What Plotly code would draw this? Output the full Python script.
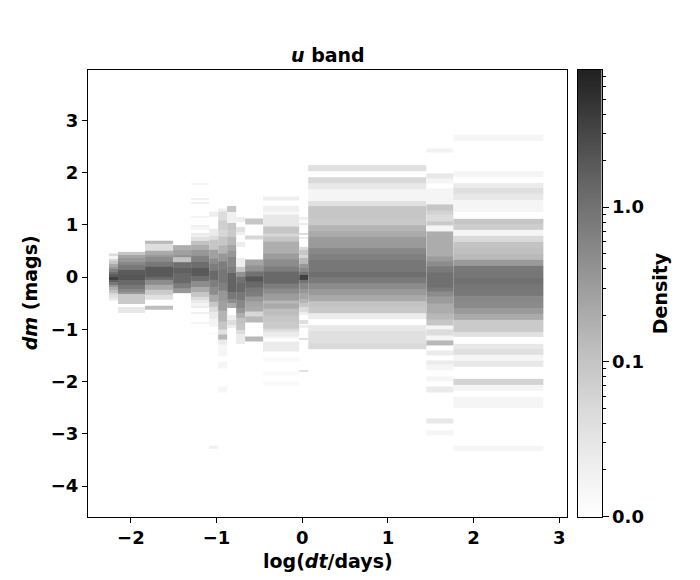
import numpy as np
import plotly.graph_objects as go

# ---------------- data ----------------
# log(dt/days) bin edges of the columns
dt_edges = [-2.255, -2.150, -1.834, -1.507, -1.297, -1.086, -0.981, -0.876,
            -0.771, -0.666, -0.456, -0.035, 0.070, 1.449, 1.764, 2.815]

# per-column dm bin edges (top -> bottom) and densities (None = empty bin)
a_dm = [0.45, 0.40, 0.35, 0.30, 0.25, 0.20, 0.15, 0.10, 0.05, 0.00, -0.05, -0.10,
        -0.15, -0.20, -0.25, -0.30, -0.35, -0.40, -0.45]
a_den = [0.045, 0.016, 0.055, 0.093, 0.21, 0.36, 0.64, 1.12, 1.83, 3.4, 1.63, 0.84,
         0.36, 0.186, 0.105, 0.055, 0.037, 0.025]

b_dm = [0.48, 0.43, 0.36, 0.29, 0.23, 0.13, 0.04, -0.06, -0.15, -0.22, -0.28, -0.33,
        -0.52, -0.57, -0.68]
b_den = [0.093, 0.24, 0.36, 0.55, 0.84, 1.83, 2.04, 1.28, 0.84, 0.55, 0.36, 0.083,
         None, 0.028]

c_dm = [0.695, 0.63, 0.50, 0.42, 0.38, 0.29, 0.20, 0.01, -0.06, -0.15, -0.25, -0.33,
        -0.44, -0.555, -0.62]
c_den = [0.143, 0.041, 0.21, 0.31, 0.48, 0.84, 1.93, 1.28, 0.48, 0.21, 0.083, 0.037,
         None, 0.121]

d_dm = [0.61, 0.52, 0.42, 0.38, 0.29, 0.17, 0.07, -0.12, -0.22, -0.31]
d_den = [0.186, 0.277, 0.41, 0.105, 1.12, 1.63, 1.28, 0.74, 0.36]

e_dm = [1.80, 1.76, 1.52, 1.48, 1.43, 1.39, 1.17, 1.13, 1.00, 0.96, 0.90, 0.85, 0.81,
        0.77, 0.70, 0.61, 0.52, 0.41, 0.28, 0.18, 0.02, -0.08, -0.18, -0.28, -0.38,
        -0.44, -0.50, -0.55, -0.60, -0.66, -0.70, -0.85, -0.89]
e_den = [0.016, None, 0.020, None, 0.020, None, 0.016, None, 0.020, 0.016, None,
         0.025, 0.020, 0.037, 0.105, 0.186, 0.36, 0.637, 1.12, 1.93, 1.12, 0.48,
         0.21, 0.093, 0.045, 0.025, 0.016, 0.025, None, 0.020, None, 0.016]

f_dm = [1.25, 1.15, 0.93, 0.80, 0.71, 0.52, 0.36, 0.26, 0.13, -0.06, -0.19, -0.34,
        -0.47, -0.57, -0.66, -0.79, -0.95, -1.06, -1.09, -3.23, -3.28]
f_den = [0.022, None, 0.025, 0.041, 0.093, 0.277, 0.48, 0.74, 1.28, 0.74, 0.48, 0.21,
         0.093, 0.045, 0.025, 0.017, None, 0.016, None, 0.020]

g_dm = [1.31, 1.25, 1.09, 0.90, 0.77, 0.60, 0.45, 0.30, 0.15, -0.10, -0.25, -0.45,
        -0.65, -0.85, -1.00, -1.10, -1.20, -1.30, -1.53, -1.62, -1.75, -2.10, -2.20]
g_den = [0.022, 0.045, 0.070, 0.055, 0.093, 0.16, 0.36, 0.74, 0.90, 0.68, 0.36, 0.277,
         0.16, 0.093, 0.037, 0.143, 0.025, 0.015, None, 0.015, None, 0.015]

h_dm = [1.36, 1.25, 1.03, 0.90, 0.77, 0.62, 0.50, 0.39, 0.20, 0.07, -0.28, -0.41,
        -0.50, -0.60, -0.73, -0.82, -0.92, -0.98]
h_den = [0.093, 0.020, 0.093, 0.083, 0.143, 0.24, 0.36, 0.55, 0.74, 1.46, 0.84, 0.48,
         0.21, None, 0.022, 0.041, 0.022]

i_dm = [1.15, 1.06, 0.96, 0.87, 0.80, 0.68, 0.58, 0.36, 0.20, 0.10, 0.01, -0.12,
        -0.28, -0.44, -0.60, -0.69, -0.79, -0.89, -1.01, -1.08, -1.27]
i_den = [0.022, None, 0.037, 0.022, None, 0.022, None, 0.022, 0.093, 0.41, 0.98, 1.28,
         0.84, 0.55, 0.36, 0.186, 0.105, 0.093, 0.045, 0.025]

j_dm = [1.12, 1.01, 0.80, 0.72, 0.33, 0.23, 0.11, 0.02, -0.09, -0.19, -0.28, -0.38,
        -0.47, -0.57, -0.66, -0.76, -0.86, -1.14, -1.24]
j_den = [0.093, None, 0.055, None, 0.24, 0.41, 0.98, 2.04, 1.28, 0.84, 0.74, 0.36,
         0.24, 0.21, 0.055, 0.143, None, 0.143]

k_dm = [1.54, 1.47, 1.36, 1.25, 1.19, 0.96, 0.84, 0.77, 0.68, 0.45, 0.33, 0.20, 0.10,
        -0.12, -0.22, -0.31, -0.44, -0.50, -0.60, -0.73, -0.86, -0.98, -1.05, -1.14,
        -1.17, -1.24, -1.30, -1.43, -1.53, -1.62, -1.81, -1.88, -2.00, -2.07]
k_den = [0.022, None, 0.020, 0.013, 0.028, 0.093, 0.055, 0.093, 0.186, 0.31, 0.48,
         0.74, 1.28, 0.74, 0.48, 0.31, 0.143, 0.21, 0.121, 0.093, 0.083, 0.045, 0.025,
         0.016, None, 0.025, 0.025, None, 0.014, None, 0.013, None, 0.013]

l_dm = [1.15, 1.10, 1.03, 0.99, 0.84, 0.80, 0.76, 0.72, 0.58, 0.52, 0.42, 0.36, 0.26,
        0.17, 0.10, 0.04, -0.06, -0.12, -0.22, -0.31, -0.41, -0.50, -0.57, -0.66,
        -0.73, -0.82, -0.89, -0.92, -0.98, -1.17, -1.21, -1.78, -1.81]
l_den = [0.020, None, 0.022, None, 0.045, None, 0.025, None, 0.045, 0.093, 0.055,
         0.143, 0.36, 0.55, 0.98, 3.4, 0.98, 0.55, 0.36, 0.24, 0.16, 0.093, 0.045,
         0.022, None, 0.041, None, 0.022, None, 0.041, None, 0.037]

m_dm = [2.14, 2.03, 1.92, 1.80, 1.69, 1.58, 1.46, 1.35, 1.23, 1.12, 1.00, 0.88, 0.77,
        0.66, 0.55, 0.43, 0.32, 0.21, 0.10, -0.01, -0.12, -0.24, -0.35, -0.47, -0.58,
        -0.69, -0.81, -0.92, -1.04, -1.15, -1.26, -1.38]
m_den = [0.038, None, 0.051, 0.028, 0.016, 0.016, 0.038, 0.093, 0.093, 0.085, 0.156,
         0.21, 0.32, 0.33, 0.54, 0.68, 0.87, 0.87, 1.12, 0.80, 0.50, 0.33, 0.21, 0.099,
         0.089, 0.024, None, 0.028, 0.038, 0.038, 0.049]

n_dm = [2.46, 2.38, 1.98, 1.89, 1.79, 1.70, 1.38, 1.28, 1.19, 1.07, 0.98, 0.87, 0.77,
        0.39, 0.29, 0.20, 0.08, -0.19, -0.28, -0.38, -0.50, -0.69, -0.82, -0.92,
        -1.01, -1.11, -1.21, -1.30, -1.40, -1.49, -1.59, -1.68, -1.78, -1.91, -2.00,
        -2.10, -2.20, -2.70, -2.80, -2.93, -3.02]
n_den = [0.018, None, 0.028, 0.016, None, 0.016, 0.093, 0.064, 0.045, 0.083, 0.016,
         0.186, 0.20, 0.31, 0.48, 0.80, 1.06, 0.80, 0.48, 0.31, 0.20, 0.143, 0.093,
         0.016, 0.045, 0.016, 0.143, None, 0.025, None, 0.025, 0.016, None, 0.016,
         None, 0.025, None, 0.028, None, 0.016]

o_dm = [2.72, 2.60, 2.03, 1.92, 1.81, 1.70, 1.59, 1.47, 1.36, 1.25, 1.12, 1.01, 0.90,
        0.78, 0.68, 0.56, 0.44, 0.33, 0.21, 0.10, -0.01, -0.13, -0.25, -0.36, -0.47,
        -0.59, -0.71, -0.82, -0.94, -1.05, -1.15, -1.27, -1.38, -1.49, -1.61, -1.72,
        -1.95, -2.07, -2.18, -2.29, -2.51, -3.22, -3.33]
o_den = [0.016, None, 0.016, None, 0.024, 0.038, 0.028, 0.016, 0.016, None, 0.093,
         0.076, 0.016, 0.049, 0.099, 0.113, 0.134, 0.33, 0.84, 0.90, 1.06, 0.90, 0.84,
         0.54, 0.50, 0.33, 0.21, 0.083, 0.083, 0.038, None, 0.028, 0.038, 0.016, 0.028,
         None, 0.062, 0.016, None, 0.016, None, 0.016]

columns_dm = [a_dm, b_dm, c_dm, d_dm, e_dm, f_dm, g_dm, h_dm, i_dm, j_dm, k_dm,
              l_dm, m_dm, n_dm, o_dm]
columns_den = [a_den, b_den, c_den, d_den, e_den, f_den, g_den, h_den, i_den, j_den,
               k_den, l_den, m_den, n_den, o_den]

density_min = 0.01
density_max = 7.7
cbar_major = [0.01, 0.1, 1.0]
cbar_major_text = ["0.0", "0.1", "1.0"]
cbar_minor = [0.02, 0.03, 0.04, 0.05, 0.06, 0.07, 0.08, 0.09,
              0.2, 0.3, 0.4, 0.5, 0.6, 0.7, 0.8, 0.9,
              2, 3, 4, 5, 6, 7]

x_ticks = [-2, -1, 0, 1, 2, 3]
y_ticks = [-4, -3, -2, -1, 0, 1, 2, 3]

# ---------------- figure ----------------
W, H = 700, 580
OFF = 8  # page body margin of the html page

def fx(p):
    return (p - OFF) / W

def fy(p):
    return 1 - (p - OFF) / H

L, R, T, B = 88, 567, 70, 516.5
CB_L, CB_R = 578, 601.5

zmin, zmax = np.log10(density_min), np.log10(density_max)
greys = [[0.0, "#ffffff"], [0.125, "#ededed"], [0.25, "#d8d8d8"], [0.375, "#bebebe"],
         [0.5, "#a0a0a0"], [0.625, "#828282"], [0.75, "#646464"], [0.875, "#424242"],
         [1.0, "#202020"]]

fig = go.Figure()
for k, (dm, den) in enumerate(zip(columns_dm, columns_den)):
    e = np.array(dm, dtype=float)[::-1]
    d = np.array(den, dtype=float)[::-1]
    z = np.log10(d).reshape(-1, 1)
    fig.add_trace(go.Heatmap(x=[dt_edges[k], dt_edges[k + 1]], y=e, z=z,
                             coloraxis="coloraxis", hoverinfo="skip",
                             xaxis="x", yaxis="y"))

# colour bar drawn as its own small axis
cb_edges = np.linspace(zmin, zmax, 161)
cb_z = ((cb_edges[:-1] + cb_edges[1:]) / 2).reshape(-1, 1)
fig.add_trace(go.Heatmap(x=[0, 1], y=cb_edges, z=cb_z, coloraxis="coloraxis",
                         hoverinfo="skip", xaxis="x2", yaxis="y2"))

tick_font = dict(family="DejaVu Sans", size=18, color="black", weight="bold")
title_font = dict(family="DejaVu Sans", size=19, color="black", weight="bold")
axis_common = dict(showline=True, linecolor="black", linewidth=1, mirror=True,
                   showgrid=False, zeroline=False, ticks="outside", ticklen=5,
                   tickwidth=1, tickcolor="black", automargin=False,
                   tickfont=tick_font)

fig.update_layout(
    width=W, height=H,
    margin=dict(l=0, r=0, t=0, b=0, pad=0),
    paper_bgcolor="white", plot_bgcolor="white",
    font=tick_font,
    showlegend=False,
    coloraxis=dict(colorscale=greys, cmin=zmin, cmax=zmax, showscale=False),
    xaxis=dict(domain=[fx(L), fx(R)], range=[-2.50, 3.09], tickmode="array",
               tickvals=x_ticks, anchor="y", **axis_common),
    yaxis=dict(domain=[fy(B), fy(T)], range=[-4.58, 3.96], tickmode="array",
               tickvals=y_ticks, anchor="x", **axis_common),
    xaxis2=dict(domain=[fx(CB_L), fx(CB_R)], range=[0, 1], anchor="y2",
                showline=True, linecolor="black", linewidth=1, mirror=True,
                showgrid=False, zeroline=False, showticklabels=False, ticks=""),
    yaxis2=dict(domain=[fy(B), fy(T)], range=[zmin, zmax], anchor="x2",
                side="right", showline=True, linecolor="black", linewidth=1,
                mirror=True, showgrid=False, zeroline=False, ticks="outside",
                ticklen=6, tickwidth=1, tickcolor="black", automargin=False,
                tickmode="array", tickvals=list(np.log10(cbar_major)),
                ticktext=cbar_major_text, tickfont=tick_font,
                minor=dict(tickmode="array", tickvals=list(np.log10(cbar_minor)),
                           ticks="outside", ticklen=3, tickwidth=1,
                           tickcolor="black", showgrid=False)),
)

fig.add_annotation(text="<i>u</i> band", x=fx((L + R) / 2), y=fy(55),
                   xref="paper", yref="paper", showarrow=False,
                   xanchor="center", yanchor="middle", font=title_font)
fig.add_annotation(text="log(<i>dt</i>/days)", x=fx((L + R) / 2), y=fy(561),
                   xref="paper", yref="paper", showarrow=False,
                   xanchor="center", yanchor="middle", font=title_font)
fig.add_annotation(text="<i>dm</i> (mags)", x=fx(30), y=fy((T + B) / 2),
                   xref="paper", yref="paper", showarrow=False, textangle=-90,
                   xanchor="center", yanchor="middle", font=title_font)
fig.add_annotation(text="Density", x=fx(660), y=fy((T + B) / 2),
                   xref="paper", yref="paper", showarrow=False, textangle=-90,
                   xanchor="center", yanchor="middle", font=title_font)

fig.write_html("out.html")
